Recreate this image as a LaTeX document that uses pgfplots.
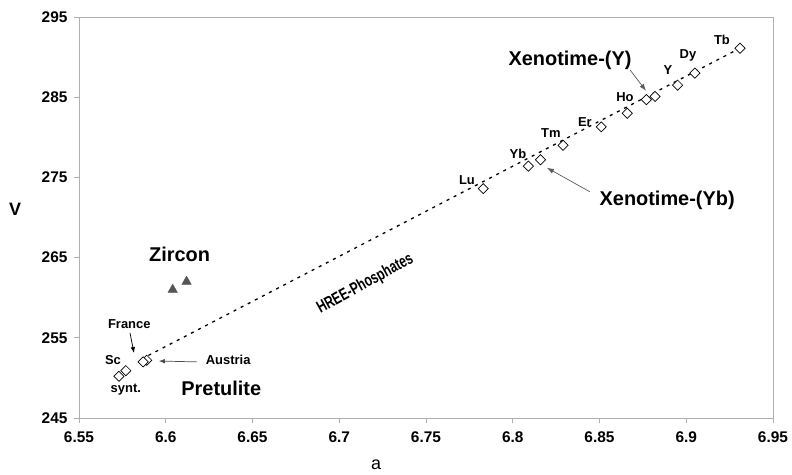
\documentclass[border=0pt]{standalone}
\usepackage{pgfplots}
\pgfplotsset{compat=1.18}
\usepackage{fontspec}
\setmainfont{Liberation Sans}
\usetikzlibrary{arrows.meta}
\definecolor{axgray}{RGB}{175,175,175}
\definecolor{trigray}{RGB}{85,85,85}
\begin{document}
\begin{tikzpicture}
\path[use as bounding box] (-79bp,-57bp) rectangle (713bp,418bp);
\begin{axis}[
  at={(0,0)}, anchor=south west,
  scale only axis, width=694bp, height=401bp,
  xmin=6.55, xmax=6.95, ymin=245, ymax=295,
  axis line style={axgray, line width=0.9bp},
  xtick={6.55,6.6,6.65,6.7,6.75,6.8,6.85,6.9,6.95},
  xticklabels={6.55,6.6,6.65,6.7,6.75,6.8,6.85,6.9,6.95},
  ytick={245,255,265,275,285,295},
  yticklabels={245,255,265,275,285,295},
  tick align=outside, tick pos=left,
  major tick length=5bp,
  tick style={axgray, line width=0.9bp},
  xticklabel style={font=\fontsize{15.5}{15.5}\selectfont\bfseries, yshift=-5bp},
  yticklabel style={font=\fontsize{15.5}{15.5}\selectfont\bfseries, xshift=-3bp},
  xlabel={a}, ylabel={V},
  xlabel style={font=\fontsize{18}{18}\selectfont, at={(axis description cs:0.428,0)}, anchor=center, yshift=-47bp},
  ylabel style={font=\fontsize{18}{18}\selectfont\bfseries, rotate=-90, at={(axis description cs:0,0.52)}, anchor=center, xshift=-64bp},
  clip=false,
]
% trend line
\addplot[black, line width=1.3bp, dash pattern=on 3bp off 5bp] coordinates {(6.590,252.8) (6.930,291.0)};
% HREE phosphates and pretulite
\addplot[only marks, mark=square*, mark size=3.6bp, mark options={rotate=45, fill=white, draw=black, line width=0.7bp}] coordinates {
(6.931,291.1) (6.905,288.0) (6.895,286.5) (6.882,285.1) (6.877,284.7)
(6.866,283.0) (6.851,281.3) (6.829,279.0) (6.816,277.2) (6.809,276.4)
(6.783,273.6) (6.589,252.2) (6.587,252.0) (6.577,250.9) (6.573,250.2)};
% zircon
\addplot[only marks, mark=triangle*, mark size=5.5bp, mark options={fill=trigray, draw=trigray}] coordinates {(6.604,261.0) (6.612,262.0)};
% labels
\node[font=\fontsize{20}{20}\selectfont\bfseries] at (axis cs:6.608,265.45) {Zircon};
\node[font=\fontsize{20}{20}\selectfont\bfseries] at (axis cs:6.632,248.74) {Pretulite};
\node[font=\fontsize{20}{20}\selectfont\bfseries] at (axis cs:6.833,289.64) {Xenotime-(Y)};
\node[font=\fontsize{20}{20}\selectfont\bfseries] at (axis cs:6.889,272.18) {Xenotime-(Yb)};
\node[rotate=29, inner sep=0pt, font=\fontsize{17}{17}\selectfont\bfseries] at (axis cs:6.715,261.7) {\scalebox{0.72}[1]{HREE-Phosphates}};
\node[font=\fontsize{13}{13}\selectfont\bfseries] at (axis cs:6.579,256.7) {France};
\node[font=\fontsize{13}{13}\selectfont\bfseries] at (axis cs:6.5696,252.2) {Sc};
\node[font=\fontsize{13}{13}\selectfont\bfseries] at (axis cs:6.577,248.5) {synt.};
\node[font=\fontsize{13}{13}\selectfont\bfseries] at (axis cs:6.636,252.2) {Austria};
\node[font=\fontsize{13}{13}\selectfont\bfseries] at (axis cs:6.9206,292.13) {Tb};
\node[font=\fontsize{13}{13}\selectfont\bfseries] at (axis cs:6.901,290.26) {Dy};
\node[font=\fontsize{13}{13}\selectfont\bfseries] at (axis cs:6.8895,288.4) {Y};
\node[font=\fontsize{13}{13}\selectfont\bfseries] at (axis cs:6.8647,285.0) {Ho};
\node[font=\fontsize{13}{13}\selectfont\bfseries] at (axis cs:6.8416,281.9) {Er};
\node[font=\fontsize{13}{13}\selectfont\bfseries] at (axis cs:6.822,280.5) {Tm};
\node[font=\fontsize{13}{13}\selectfont\bfseries] at (axis cs:6.803,277.9) {Yb};
\node[font=\fontsize{13}{13}\selectfont\bfseries] at (axis cs:6.7736,274.7) {Lu};
% arrows
\draw[gray!70!black, line width=0.7bp, -{Latex[length=7bp,width=5bp]}] (axis cs:6.8676,288.4) -- (axis cs:6.8768,285.8);
\draw[gray!70!black, line width=0.7bp, -{Latex[length=7bp,width=5bp]}] (axis cs:6.8445,273.2) -- (axis cs:6.8197,276.2);
\draw[black, line width=0.7bp, -{Latex[length=6bp,width=4.5bp]}] (axis cs:6.5794,255.6) -- (axis cs:6.5817,253.1);
\draw[black!70, line width=0.7bp, -{Latex[length=6bp,width=4.5bp]}] (axis cs:6.618,252.0) -- (axis cs:6.596,252.1);
\end{axis}
\end{tikzpicture}
\end{document}
